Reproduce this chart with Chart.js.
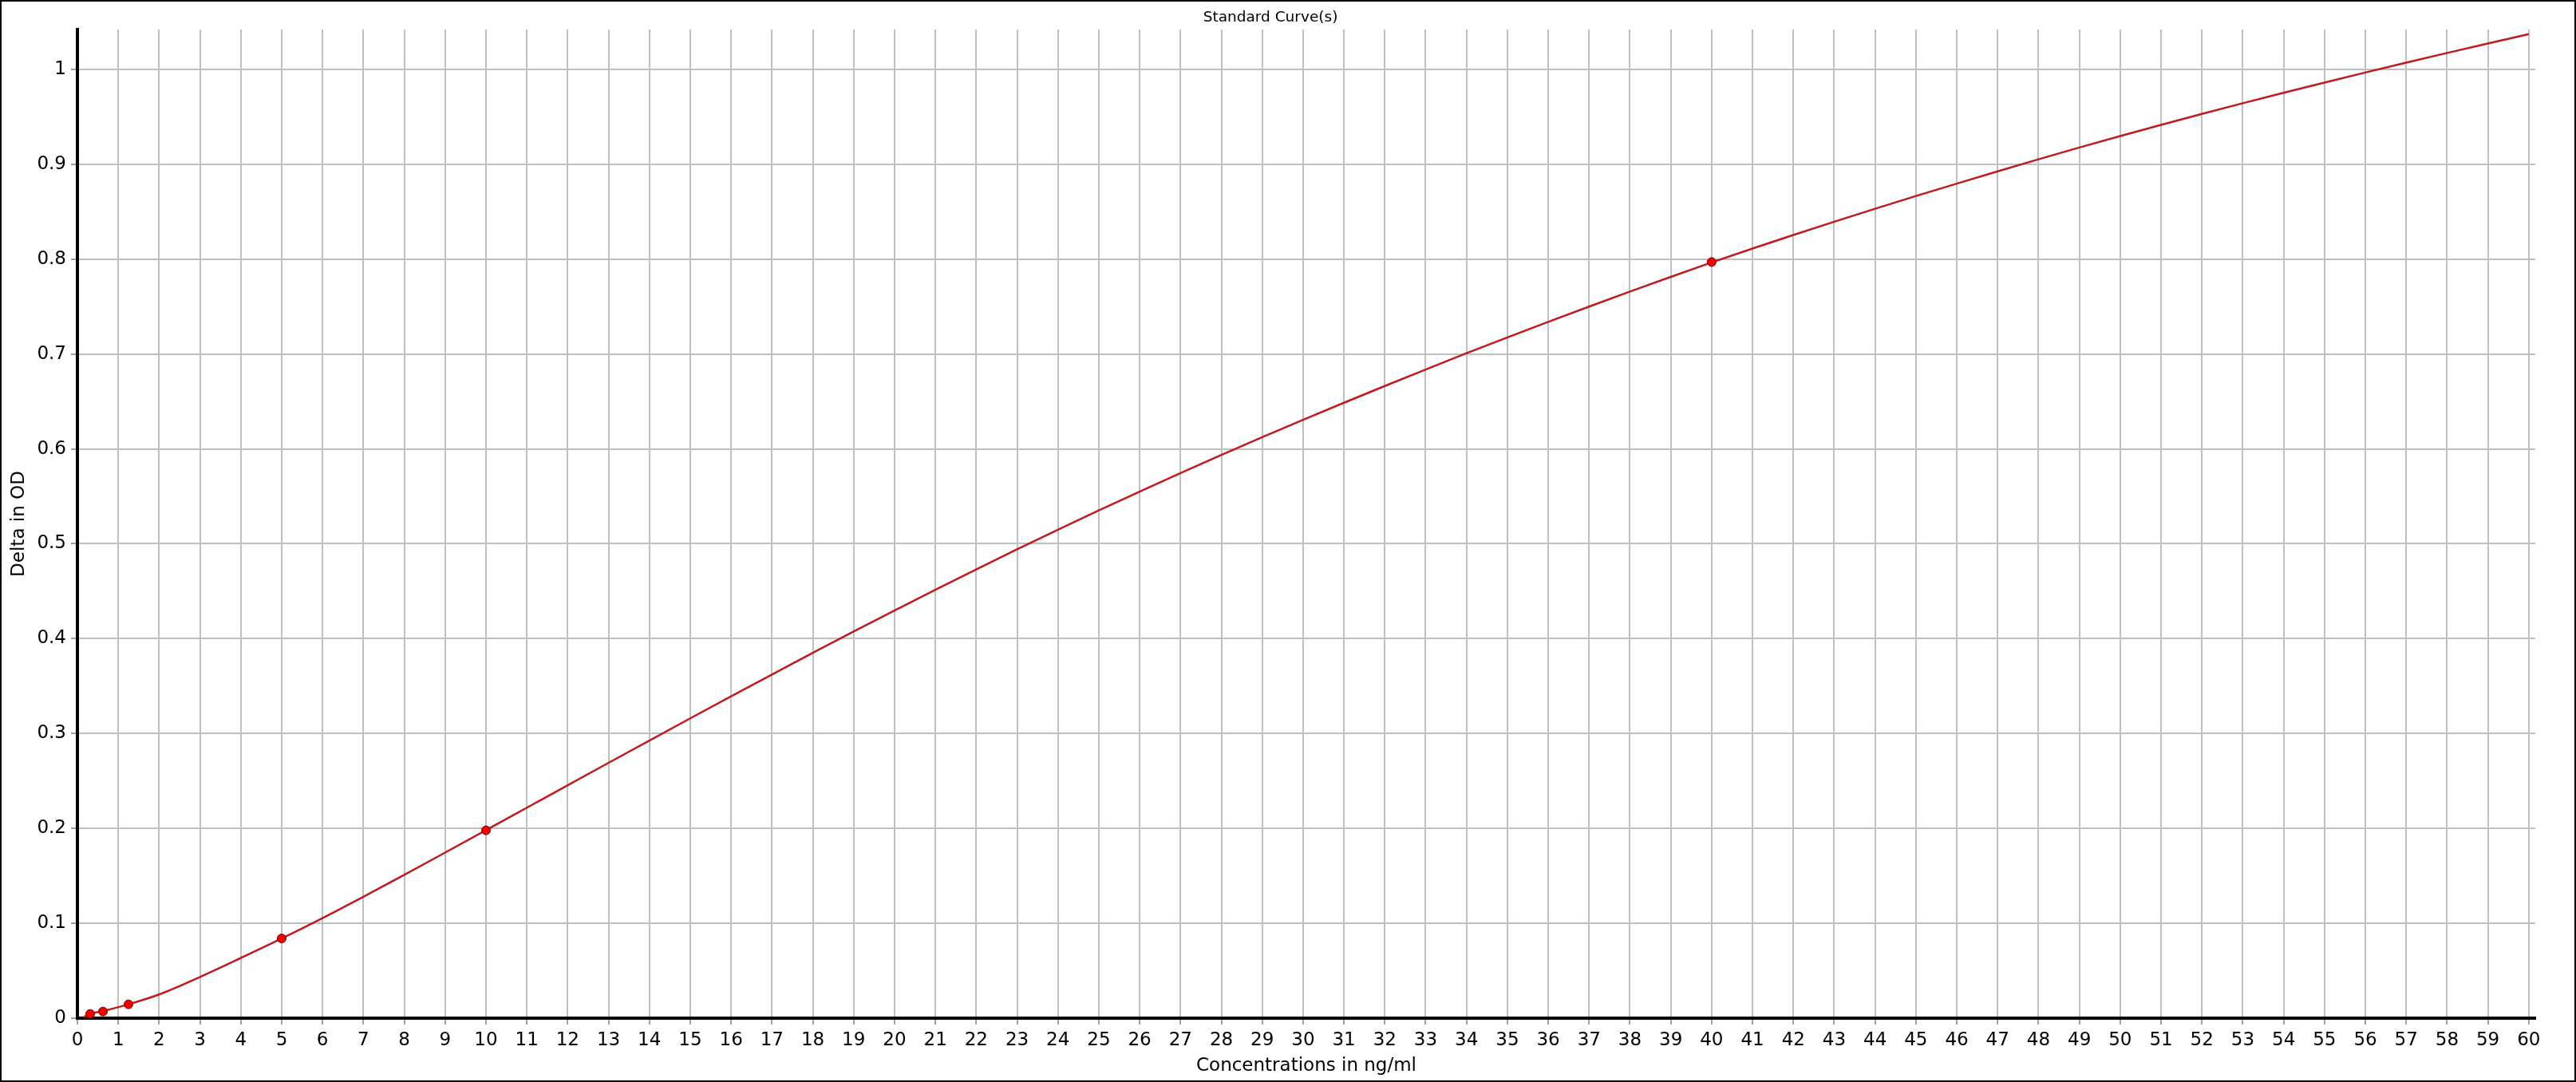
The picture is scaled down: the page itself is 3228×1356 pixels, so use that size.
<!DOCTYPE html>
<html>
<head>
<meta charset="utf-8">
<title>Standard Curve(s)</title>
<script src="https://cdn.jsdelivr.net/npm/chart.js@4.4.1/dist/chart.umd.min.js"></script>
<style>
    html, body { margin: 0; padding: 0; background: #ffffff; }
    canvas { display: block; }
</style>
</head>
<body>
<canvas id="curveChart" width="3228" height="1356"></canvas>
<script>
// fitted standard curve
const curveX = [0.15, 0.3125, 0.625, 1.25, 2, 3, 4, 5, 6, 7, 8, 9, 10,
    11, 12, 13, 14, 15, 16, 17, 18, 19, 20, 21, 22, 23, 24, 25,
    26, 27, 28, 29, 30, 31, 32, 33, 34, 35, 36, 37, 38, 39, 40,
    41, 42, 43, 44, 45, 46, 47, 48, 49, 50, 51, 52, 53, 54, 55,
    56, 57, 58, 59, 60];
const curveY = [0.001, 0.0045, 0.0075, 0.0146, 0.025, 0.0435, 0.0635, 0.084, 0.1055, 0.128, 0.1511, 0.1745, 0.1981,
    0.2218, 0.2455, 0.2691, 0.2926, 0.316, 0.3392, 0.3622, 0.385, 0.4075, 0.4297, 0.4515, 0.473, 0.4941, 0.5148, 0.5351,
    0.555, 0.5745, 0.5936, 0.6123, 0.6306, 0.6486, 0.6663, 0.6837, 0.7008, 0.7175, 0.7339, 0.75, 0.7658, 0.7813, 0.7965,
    0.8111, 0.8254, 0.8394, 0.8531, 0.8665, 0.8796, 0.8925, 0.9052, 0.9176, 0.9297, 0.9415, 0.953, 0.9643, 0.9753, 0.9861,
    0.9967, 1.0071, 1.0173, 1.0273, 1.0371];

// measured standards
const standardsX = [0.3125, 0.625, 1.25, 5, 10, 40];
const standardsY = [0.0045, 0.007, 0.0146, 0.084, 0.198, 0.797];

const chartTitle = 'Standard Curve(s)';
const xTitle = 'Concentrations in ng/ml';
const yTitle = 'Delta in OD';

const fontFamily = '"DejaVu Sans", Verdana, sans-serif';

function toPoints(xs, ys) {
    return xs.map((x, i) => ({ x: x, y: ys[i] }));
}

// frame round the whole picture and the title on top
const framePlugin = {
    id: 'frame',
    afterDraw(chart) {
        const ctx = chart.ctx;
        ctx.save();
        ctx.strokeStyle = '#000000';
        ctx.lineWidth = 2;
        ctx.strokeRect(1, 1, chart.width - 2, chart.height - 2);
        ctx.fillStyle = '#000000';
        ctx.font = '18.5px ' + fontFamily;
        ctx.textAlign = 'center';
        ctx.textBaseline = 'alphabetic';
        ctx.fillText(chartTitle, 1592, 27);
        ctx.restore();
    }
};

const ctx = document.getElementById('curveChart').getContext('2d');
new Chart(ctx, {
    type: 'scatter',
    data: {
        datasets: [
            {
                label: 'Curve',
                data: toPoints(curveX, curveY),
                showLine: true,
                borderColor: '#bf1a1d',
                borderWidth: 2.5,
                pointRadius: 0,
                cubicInterpolationMode: 'monotone',
                order: 2
            },
            {
                label: 'Standards',
                data: toPoints(standardsX, standardsY),
                showLine: false,
                backgroundColor: '#f20000',
                borderColor: '#7a0000',
                borderWidth: 1,
                pointRadius: 5.5,
                order: 1
            }
        ]
    },
    options: {
        responsive: false,
        animation: false,
        devicePixelRatio: 1,
        layout: {
            padding: { left: 0, right: 51, top: 37, bottom: 0 }
        },
        plugins: {
            legend: { display: false },
            title: { display: false },
            tooltip: { enabled: false }
        },
        scales: {
            x: {
                type: 'linear',
                min: 0,
                max: 60.16,
                afterFit: scale => { scale.height = 80; },
                ticks: {
                    stepSize: 1,
                    includeBounds: false,
                    autoSkip: false,
                    maxRotation: 0,
                    padding: 6,
                    color: '#000000',
                    font: { family: fontFamily, size: 23 },
                    callback: v => String(Math.round(v))
                },
                grid: {
                    color: '#c0c0c0',
                    lineWidth: 2,
                    tickLength: 8,
                    tickColor: '#a0a0a0'
                },
                border: { color: '#000000', width: 4 },
                title: {
                    display: true,
                    text: xTitle,
                    color: '#000000',
                    font: { family: fontFamily, size: 23 },
                    padding: { top: 0, bottom: 6 }
                }
            },
            y: {
                type: 'linear',
                min: 0,
                max: 1.042,
                afterFit: scale => { scale.width = 97; },
                ticks: {
                    stepSize: 0.1,
                    includeBounds: false,
                    padding: 6,
                    color: '#000000',
                    font: { family: fontFamily, size: 23 },
                    callback: v => String(Number(v.toFixed(2)))
                },
                grid: {
                    color: '#c0c0c0',
                    lineWidth: 2,
                    tickLength: 8,
                    tickColor: '#a0a0a0'
                },
                border: { color: '#000000', width: 4 },
                title: {
                    display: true,
                    text: yTitle,
                    color: '#000000',
                    font: { family: fontFamily, size: 23 },
                    padding: { top: 10, bottom: 0 }
                }
            }
        }
    },
    plugins: [framePlugin]
});
</script>
</body>
</html>
